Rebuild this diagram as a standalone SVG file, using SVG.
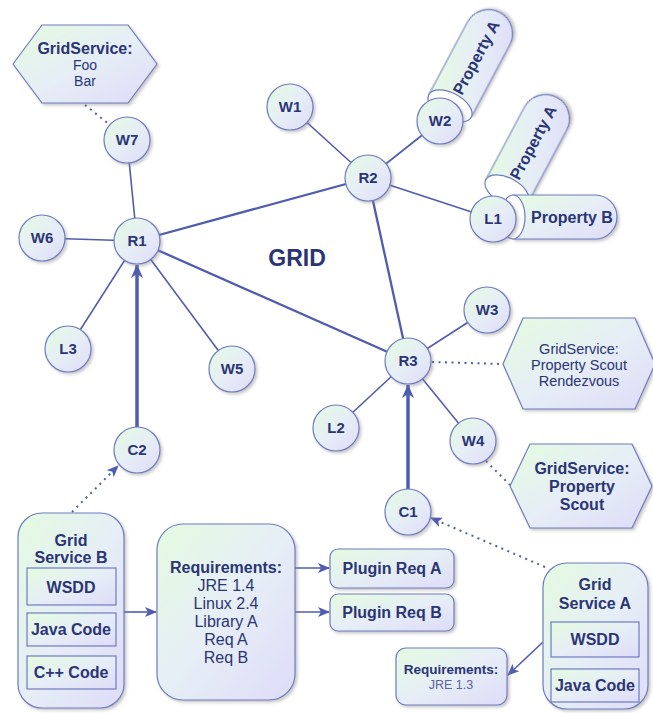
<svg xmlns="http://www.w3.org/2000/svg" width="653" height="713" viewBox="0 0 653 713">
<defs>
<linearGradient id="g" x1="0" y1="0" x2="1" y2="1">
<stop offset="0" stop-color="#e4fbe0"/>
<stop offset="0.5" stop-color="#e6eef6"/>
<stop offset="1" stop-color="#dedcf8"/>
</linearGradient>
<filter id="sh" x="-20%" y="-20%" width="150%" height="150%">
<feDropShadow dx="2" dy="2" stdDeviation="1.5" flood-color="#888" flood-opacity="0.45"/>
</filter>
<marker id="ah" viewBox="0 0 14 12" refX="13" refY="6" markerWidth="14" markerHeight="12" markerUnits="userSpaceOnUse" orient="auto">
<path d="M0,0 L14,6 L0,12 L4,6 Z" fill="#4f5cb0"/>
</marker>
<marker id="ahs" viewBox="0 0 12 10" refX="11" refY="5" markerWidth="12" markerHeight="10" markerUnits="userSpaceOnUse" orient="auto">
<path d="M0,0 L12,5 L0,10 L3,5 Z" fill="#4f5cb0"/>
</marker>
</defs>
<style>
.n{fill:url(#g);stroke:#6e7cc0;stroke-width:1.2;filter:url(#sh)}
.b{fill:url(#g);stroke:#6e7cc0;stroke-width:1.2}
.w{fill:#fff;stroke:#6e7cc0;stroke-width:1.2}
.e{stroke:#4f5cb0;stroke-width:1.6;fill:none}
.m{stroke:#4f5cb0;stroke-width:2.3;fill:none}
.t{stroke:#4f5cb0;stroke-width:3.5;fill:none}
.d{stroke:#4f5cb0;stroke-width:2;fill:none;stroke-dasharray:2 4.5}
text{font-family:"Liberation Sans",Arial,sans-serif;fill:#2b3575;text-anchor:middle}
.l{font-size:15px;font-weight:bold}
.bt{font-size:16px;font-weight:bold}
.nt{font-size:16px}
</style>

<g id="connectors">
<line class="m" x1="137" y1="241" x2="368" y2="178"/>
<line class="m" x1="137" y1="241" x2="408" y2="361"/>
<line class="m" x1="368" y1="178" x2="408" y2="361"/>
<line class="e" x1="368" y1="178" x2="290" y2="107"/>
<line class="e" x1="368" y1="178" x2="440" y2="121"/>
<line class="e" x1="368" y1="178" x2="493" y2="219"/>
<line class="e" x1="137" y1="241" x2="127" y2="140"/>
<line class="e" x1="137" y1="241" x2="42" y2="238"/>
<line class="e" x1="137" y1="241" x2="68" y2="349"/>
<line class="e" x1="137" y1="241" x2="232" y2="369"/>
<line class="e" x1="408" y1="361" x2="487" y2="310"/>
<line class="e" x1="408" y1="361" x2="336" y2="428"/>
<line class="e" x1="408" y1="361" x2="473" y2="441"/>
<line class="t" x1="137" y1="427" x2="137" y2="265" marker-end="url(#ah)"/>
<line class="t" x1="408" y1="489" x2="408" y2="385" marker-end="url(#ah)"/>
<line class="d" x1="85" y1="105" x2="110" y2="125"/>
<line class="d" x1="432" y1="362" x2="503" y2="364"/>
<line class="d" x1="486" y1="461" x2="510" y2="485"/>
<line class="d" x1="72" y1="512" x2="118" y2="466" marker-end="url(#ahs)"/>
<line class="d" x1="545" y1="567" x2="431" y2="518" marker-end="url(#ahs)"/>
<line class="e" x1="124" y1="612" x2="156" y2="612" marker-end="url(#ahs)"/>
<line class="e" x1="295" y1="568" x2="329" y2="568" marker-end="url(#ahs)"/>
<line class="e" x1="295" y1="612" x2="329" y2="612" marker-end="url(#ahs)"/>
<line class="e" x1="543" y1="642" x2="508" y2="675" marker-end="url(#ahs)"/>
</g>

<text x="297" y="266" style="font-size:23px;font-weight:bold">GRID</text>

<g id="gs-foo">
<polygon class="n" points="13,64 42,25 128,25 157,64 128,103 42,103"/>
<text class="bt" x="85" y="54">GridService:</text>
<text x="85" y="70" style="font-size:14px">Foo</text>
<text x="85" y="86" style="font-size:14px">Bar</text>
</g>

<g id="prop-w2" transform="translate(450,106) rotate(-62)">
<path class="n" d="M0,-24 H82 A24,24 0 0 1 82,24 H0 Z"/>
<ellipse class="w" cx="0" cy="0" rx="13" ry="24"/>
<text class="bt" x="55" y="6">Property A</text>
</g>

<g id="prop-l1-a" transform="translate(507,191) rotate(-62)">
<path class="n" d="M0,-24 H82 A24,24 0 0 1 82,24 H0 Z"/>
<ellipse class="w" cx="0" cy="0" rx="13" ry="24"/>
<text class="bt" x="55" y="6">Property A</text>
</g>

<g id="prop-l1-b">
<path class="n" d="M513,195 H595 A22,22 0 0 1 595,239 H513 Z"/>
<ellipse class="w" cx="513" cy="217" rx="12" ry="22"/>
<text class="bt" x="572" y="223">Property B</text>
</g>

<g id="R1"><circle class="n" cx="137" cy="241" r="23"/><text class="l" x="137" y="246">R1</text></g>
<g id="R2"><circle class="n" cx="368" cy="178" r="23"/><text class="l" x="368" y="183">R2</text></g>
<g id="R3"><circle class="n" cx="408" cy="361" r="23"/><text class="l" x="408" y="366">R3</text></g>
<g id="W1"><circle class="n" cx="290" cy="107" r="23"/><text class="l" x="290" y="112">W1</text></g>
<g id="W2"><circle class="n" cx="440" cy="121" r="23"/><text class="l" x="440" y="126">W2</text></g>
<g id="L1"><circle class="n" cx="493" cy="219" r="23"/><text class="l" x="493" y="224">L1</text></g>
<g id="W7"><circle class="n" cx="127" cy="140" r="23"/><text class="l" x="127" y="145">W7</text></g>
<g id="W6"><circle class="n" cx="42" cy="238" r="23"/><text class="l" x="42" y="243">W6</text></g>
<g id="L3"><circle class="n" cx="68" cy="349" r="23"/><text class="l" x="68" y="354">L3</text></g>
<g id="W5"><circle class="n" cx="232" cy="369" r="23"/><text class="l" x="232" y="374">W5</text></g>
<g id="C2"><circle class="n" cx="137" cy="450" r="23"/><text class="l" x="137" y="455">C2</text></g>
<g id="W3"><circle class="n" cx="487" cy="310" r="23"/><text class="l" x="487" y="315">W3</text></g>
<g id="W4"><circle class="n" cx="473" cy="441" r="23"/><text class="l" x="473" y="446">W4</text></g>
<g id="L2"><circle class="n" cx="336" cy="428" r="23"/><text class="l" x="336" y="433">L2</text></g>
<g id="C1"><circle class="n" cx="408" cy="512" r="23"/><text class="l" x="408" y="517">C1</text></g>

<g id="gs-rendezvous">
<polygon class="n" points="503,364 523,318 635,318 655,364 635,409 523,409"/>
<text x="579" y="354" style="font-size:14.5px">GridService:</text>
<text x="579" y="370" style="font-size:14.5px">Property Scout</text>
<text x="579" y="386" style="font-size:14.5px">Rendezvous</text>
</g>

<g id="gs-scout">
<polygon class="n" points="510,486 530,444 632,444 652,486 632,528 530,528"/>
<text class="bt" x="582" y="474">GridService:</text>
<text class="bt" x="582" y="492">Property</text>
<text class="bt" x="582" y="510">Scout</text>
</g>

<g id="grid-service-b">
<rect class="n" x="18" y="513" width="106" height="195" rx="24"/>
<text class="bt" x="71" y="546">Grid</text>
<text class="bt" x="71" y="563">Service B</text>
<rect class="b" x="27" y="568" width="89" height="37"/>
<text class="bt" x="71" y="593">WSDD</text>
<rect class="b" x="27" y="613" width="89" height="33"/>
<text class="bt" x="71" y="635">Java Code</text>
<rect class="b" x="27" y="656" width="89" height="33"/>
<text class="bt" x="71" y="678">C++ Code</text>
</g>

<g id="requirements-b">
<rect class="n" x="157" y="524" width="138" height="176" rx="26"/>
<text class="bt" x="226" y="573">Requirements:</text>
<text class="nt" x="226" y="591">JRE 1.4</text>
<text class="nt" x="226" y="609">Linux 2.4</text>
<text class="nt" x="226" y="627">Library A</text>
<text class="nt" x="226" y="645">Req A</text>
<text class="nt" x="226" y="663">Req B</text>
</g>

<g id="plugin-a">
<rect class="n" x="330" y="549" width="124" height="39" rx="8"/>
<text class="bt" x="392" y="574">Plugin Req A</text>
</g>
<g id="plugin-b">
<rect class="n" x="330" y="594" width="124" height="37" rx="8"/>
<text class="bt" x="392" y="618">Plugin Req B</text>
</g>

<g id="grid-service-a">
<rect class="n" x="543" y="563" width="105" height="146" rx="24"/>
<text class="bt" x="595" y="590">Grid</text>
<text class="bt" x="595" y="609">Service A</text>
<rect class="b" x="551" y="622" width="88" height="35"/>
<text class="bt" x="595" y="645">WSDD</text>
<rect class="b" x="551" y="669" width="88" height="33"/>
<text class="bt" x="595" y="691">Java Code</text>
</g>

<g id="requirements-a">
<rect class="n" x="396" y="648" width="111" height="57" rx="10"/>
<text x="451" y="674" style="font-size:13.5px;font-weight:bold">Requirements:</text>
<text x="451" y="689" style="font-size:12.5px;fill:#5a64a0">JRE 1.3</text>
</g>
</svg>
